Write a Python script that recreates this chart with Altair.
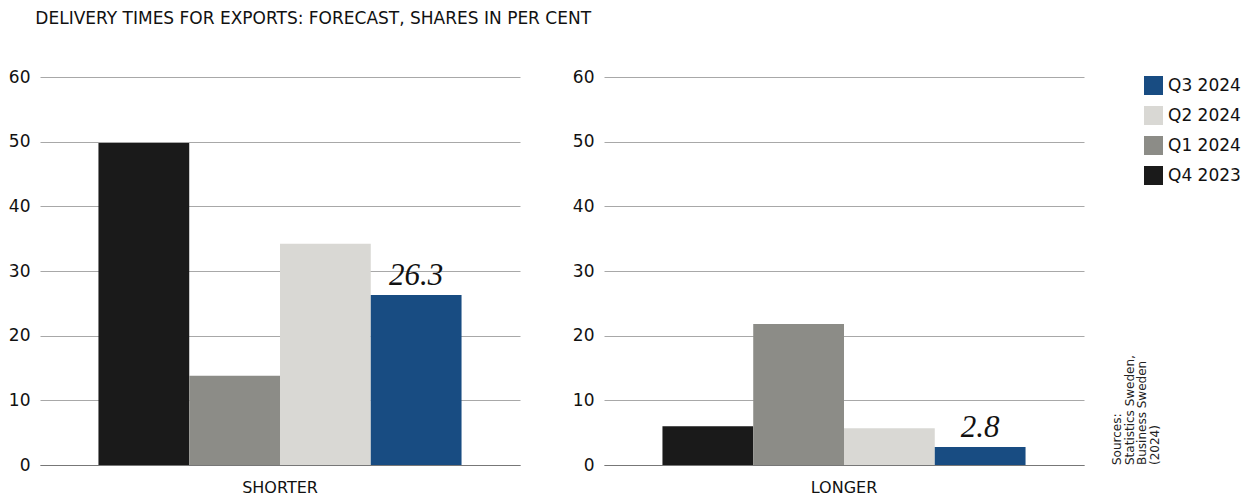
import altair as alt
import pandas as pd

quarters = ["Q4 2023", "Q1 2024", "Q2 2024", "Q3 2024"]
legend_order = ["Q3 2024", "Q2 2024", "Q1 2024", "Q4 2023"]
colors = ["#1a1a1a", "#8c8c87", "#d9d8d4", "#184c82"]
shorter = [49.8, 13.8, 34.2, 26.3]
longer = [6.0, 21.8, 5.7, 2.8]
y_ticks = [0, 10, 20, 30, 40, 50, 60]
title_text = "DELIVERY TIMES FOR EXPORTS: FORECAST, SHARES IN PER CENT"
source_lines = ["Sources:", "Statistics Sweden,", "Business Sweden", "(2024)"]

FONT = "DejaVu Sans"

def panel(cat, values, show_legend, extra=None):
    df = pd.DataFrame({"cat": [cat] * 4, "quarter": quarters, "value": values})
    x = alt.X("cat:N", title=None,
              scale=alt.Scale(paddingInner=0, paddingOuter=0.161),
              axis=alt.Axis(labelAngle=0, labelFontSize=16, labelColor="#111",
                            labelFont=FONT, ticks=False, domain=True,
                            domainColor="#777", labelPadding=14, grid=False))
    y = alt.Y("value:Q", title=None,
              scale=alt.Scale(domain=[0, 60], nice=False),
              axis=alt.Axis(values=y_ticks, ticks=False, domain=False,
                            labelFontSize=17, labelColor="#111", labelFont=FONT,
                            labelPadding=10, gridColor="#a8a8a8", gridWidth=1))
    color = alt.Color("quarter:N",
                      scale=alt.Scale(domain=quarters, range=colors),
                      sort=legend_order,
                      legend=alt.Legend(title=None, orient="none", legendX=1104, legendY=-1,
                                        symbolType="square", symbolSize=361,
                                        symbolStrokeWidth=0, labelFontSize=17,
                                        labelFont=FONT, labelColor="#111",
                                        labelOffset=5, rowPadding=11, symbolOpacity=1,
                                        values=legend_order) if show_legend else None)
    bars = alt.Chart(df).mark_bar(opacity=1).encode(
        x=x,
        xOffset=alt.XOffset("quarter:N", sort=quarters, scale=alt.Scale(paddingInner=0, paddingOuter=0)),
        y=y,
        color=color,
    )
    lab_df = df[df["quarter"] == "Q3 2024"]
    labels = alt.Chart(lab_df).mark_text(
        font="Liberation Serif", fontStyle="italic", fontSize=31, baseline="alphabetic", dy=-10,
        color="#111"
    ).encode(
        x=alt.X("cat:N"),
        xOffset=alt.XOffset("quarter:N", sort=quarters),
        y="value:Q",
        text=alt.Text("value:Q", format=".1f"),
    )
    layers = [bars, labels]
    if extra is not None:
        layers.append(extra)
    return alt.layer(*layers).properties(width=480, height=388)

src_df = pd.DataFrame({"t": [source_lines]})
source = alt.Chart(src_df).mark_text(
    angle=270, align="left", baseline="top", fontSize=12, font=FONT,
    color="#222", lineHeight=12.5
).encode(
    x=alt.value(508), y=alt.value(388), text="t"
)

left = panel("SHORTER", shorter, True)
right = panel("LONGER", longer, False, source)

chart = alt.hconcat(left, right, spacing=52).properties(
    title=alt.TitleParams(title_text, anchor="start", fontSize=17, font=FONT,
                          fontWeight="normal", color="#111", dx=27, offset=40),
    padding={"left": 0, "top": 2, "right": 0, "bottom": 0},
).configure_view(stroke=None).resolve_scale(color="shared")

chart.save("out.html", embed_options={"renderer": "svg", "actions": False})
